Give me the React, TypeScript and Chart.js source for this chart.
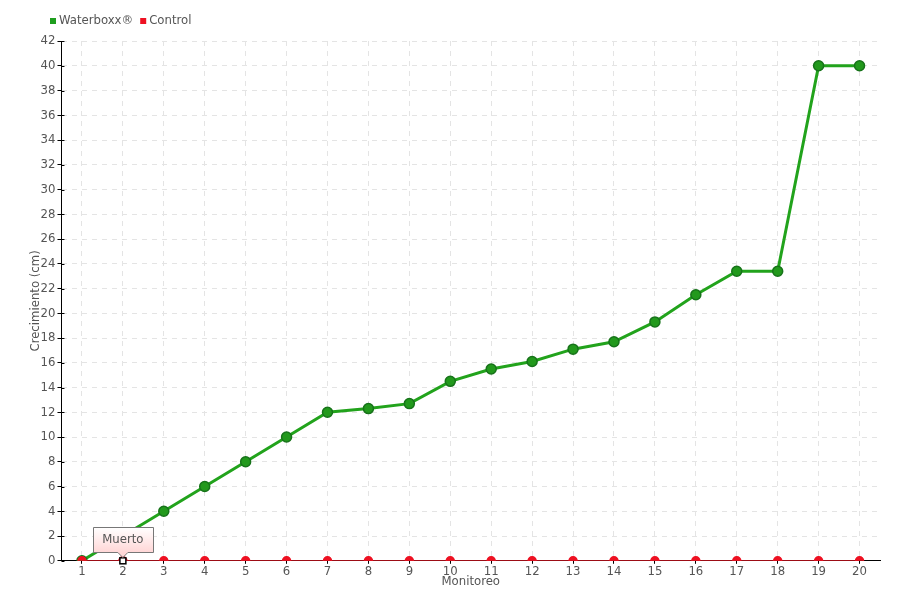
import React, { useEffect, useRef } from "react";
import { Chart, registerables } from "chart.js";

Chart.register(...registerables);

const categories = ["1","2","3","4","5","6","7","8","9","10","11","12","13","14","15","16","17","18","19","20"];
const waterboxx = [0, 2, 4, 6, 8, 10, 12, 12.3, 12.7, 14.5, 15.5, 16.1, 17.1, 17.7, 19.3, 21.5, 23.4, 23.4, 40, 40];
const control = [0, 0, 0, 0, 0, 0, 0, 0, 0, 0, 0, 0, 0, 0, 0, 0, 0, 0, 0, 0];
const seriesNames = ["Waterboxx®", "Control"];
const seriesColors = ["#1e9e1e", "#ee1122"];
const annotationIndex = 1;
const annotationText = "Muerto";

const FONT = "'DejaVu Sans Condensed', 'Liberation Sans Narrow', 'DejaVu Sans', sans-serif";

const decorPlugin = {
  id: "decor",
  afterDraw(chart: any) {
    const ctx = chart.ctx;
    const ys = chart.scales.y;
    const area = chart.chartArea;
    ctx.save();
    ctx.strokeStyle = "#000000";
    ctx.lineWidth = 1;
    ys.ticks.forEach((t: any) => {
      const py = Math.round(ys.getPixelForValue(t.value)) + 0.5;
      ctx.beginPath();
      ctx.moveTo(area.left, py);
      ctx.lineTo(area.left + 3, py);
      ctx.stroke();
    });
    ctx.font = `13px ${FONT}`;
    ctx.textBaseline = "middle";
    ctx.textAlign = "left";
    let lx = 50;
    const ly = 21;
    seriesNames.forEach((name, i) => {
      ctx.fillStyle = seriesColors[i];
      ctx.fillRect(lx, ly - 3, 6, 6);
      ctx.fillStyle = "#555555";
      ctx.fillText(name, lx + 9, ly);
      lx += 9 + ctx.measureText(name).width + 7;
    });
    ctx.restore();
  },
  afterDatasetsDraw(chart: any) {
    const ctx = chart.ctx;
    const x = chart.scales.x.getPixelForValue(annotationIndex);
    const y = chart.scales.y.getPixelForValue(control[annotationIndex]);
    ctx.save();
    ctx.fillStyle = "#ffffff";
    ctx.strokeStyle = "#000000";
    ctx.lineWidth = 1.5;
    ctx.fillRect(x - 3, y - 3, 6, 6);
    ctx.strokeRect(x - 3, y - 3, 6, 6);
    const w = 60, h = 25;
    const bx = Math.round(x - 30) + 0.5, by = Math.round(y - 34) + 0.5;
    const g = ctx.createLinearGradient(0, by, 0, by + h);
    g.addColorStop(0, "#ffffff");
    g.addColorStop(1, "#ffd6d6");
    ctx.beginPath();
    ctx.moveTo(bx, by);
    ctx.lineTo(bx + w, by);
    ctx.lineTo(bx + w, by + h);
    ctx.lineTo(x + 5, by + h);
    ctx.lineTo(x, by + h + 5);
    ctx.lineTo(x - 5, by + h);
    ctx.lineTo(bx, by + h);
    ctx.closePath();
    ctx.fillStyle = g;
    ctx.fill();
    ctx.strokeStyle = "#777777";
    ctx.lineWidth = 1;
    ctx.stroke();
    ctx.fillStyle = "#555555";
    ctx.font = `13px ${FONT}`;
    ctx.textAlign = "center";
    ctx.textBaseline = "middle";
    ctx.fillText(annotationText, x, by + h / 2);
    ctx.restore();
  },
};

export default function App() {
  const ref = useRef<HTMLCanvasElement>(null);
  useEffect(() => {
    document.body.style.margin = "0";
    const chart = new Chart(ref.current!, {
      type: "line",
      data: {
        labels: categories,
        datasets: [
          {
            label: seriesNames[0],
            data: waterboxx,
            borderColor: "#22a31c",
            backgroundColor: seriesColors[0],
            pointBackgroundColor: "#22991c",
            pointBorderColor: "#17731a",
            pointBorderWidth: 1.5,
            pointRadius: 5,
            borderWidth: 3,
            tension: 0,
            order: 2,
          },
          {
            label: seriesNames[1],
            data: control,
            borderColor: "#d0101c",
            backgroundColor: seriesColors[1],
            pointBackgroundColor: "#ee1122",
            pointBorderColor: "#ee1122",
            pointRadius: 4,
            borderWidth: 1.5,
            tension: 0,
            order: 1,
          },
        ],
      },
      options: {
        animation: false,
        responsive: false,
        layout: { padding: { left: 28, right: 20, top: 41, bottom: 11 } },
        plugins: {
          tooltip: { enabled: false },
          legend: { display: false },
        },
        scales: {
          x: {
            offset: true,
            grid: {
              offset: false,
              color: "#e4e4e4",
              drawTicks: true,
              tickLength: 3,
              tickColor: "#000000",
            },
            border: { color: "#000000", width: 1, dash: [5, 5] },
            ticks: { color: "#555555", font: { family: FONT, size: 13 }, padding: 0, maxRotation: 0 },
            title: { display: true, text: "Monitoreo", color: "#555555", font: { family: FONT, size: 13 }, padding: { top: -6, bottom: 0 } },
          },
          y: {
            min: 0,
            max: 42,
            grid: { color: "#e4e4e4", tickLength: 4, tickColor: "#000000" },
            border: { color: "#000000", width: 1, dash: [5, 5] },
            ticks: { stepSize: 2, color: "#555555", font: { family: FONT, size: 13 }, padding: 2 },
            title: { display: true, text: "Crecimiento (cm)", color: "#555555", font: { family: FONT, size: 13 }, padding: { top: 0, bottom: -5 } },
          },
        },
      },
      plugins: [decorPlugin],
    } as any);
    return () => chart.destroy();
  }, []);
  return (
    <div style={{ width: 900, height: 600 }}>
      <canvas ref={ref} width={900} height={600} />
    </div>
  );
}
